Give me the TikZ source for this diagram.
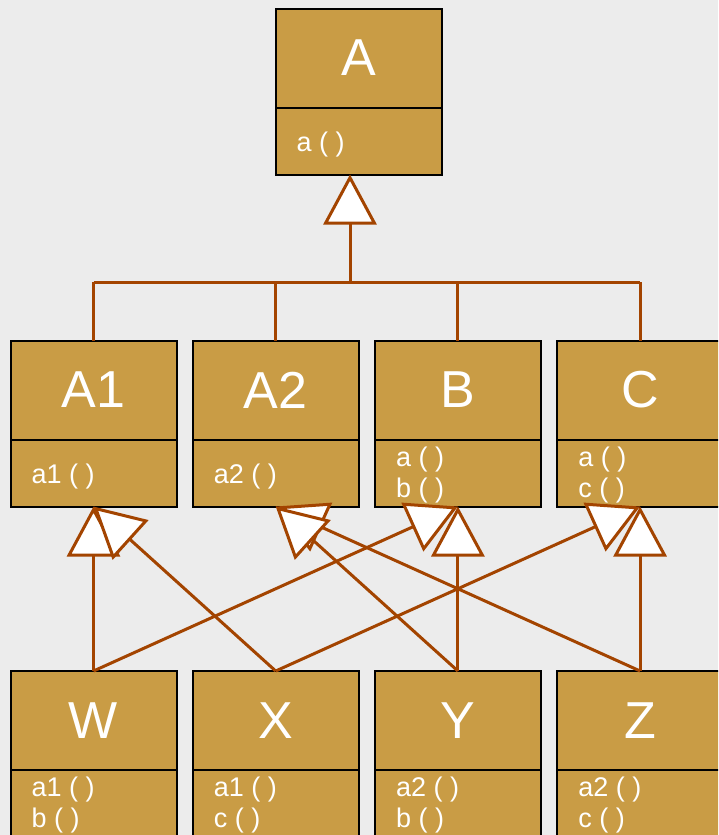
\documentclass[tikz,border=0pt]{standalone}
\usepackage{fontspec}
\setmainfont{Liberation Sans}
\usetikzlibrary{arrows.meta}
\definecolor{bgcol}{RGB}{236,236,236}
\definecolor{boxcol}{RGB}{201,156,69}
\definecolor{linecol}{RGB}{163,68,0}
\tikzset{
  classbox/.style={draw=black, line width=2pt, fill=boxcol, minimum width=166pt, minimum height=166pt, inner sep=0pt, outer sep=0pt, anchor=north},
  divider/.style={draw=black, line width=2pt},
  titletext/.style={text=white, font=\fontsize{52}{60}\selectfont, inner sep=0pt},
  methtext/.style={text=white, font=\fontsize{27}{31}\selectfont, inner sep=0pt, anchor=base west},
  gen/.style={draw=linecol, line width=3pt, -{Triangle[length=50pt,width=53pt,fill=white,line join=miter]}},
  busline/.style={draw=linecol, line width=3pt}
}
\begin{document}
\begin{tikzpicture}[x=1pt,y=-1pt]
\useasboundingbox (0,0) rectangle (718,835);
\fill[bgcol] (0,0) rectangle (718,835);
\clip (0,0) rectangle (718,835);

% boxes
\node[classbox] (A)  at (358.5,8.5) {};
\node[classbox] (A1) at (93.5,340.5) {};
\node[classbox] (A2) at (275.7,340.5) {};
\node[classbox] (B)  at (457.9,340.5) {};
\node[classbox] (C)  at (640.1,340.5) {};
\node[classbox] (W)  at (93.5,671) {};
\node[classbox] (X)  at (275.7,671) {};
\node[classbox] (Y)  at (457.9,671) {};
\node[classbox] (Z)  at (640.1,671) {};

% dividers and titles
\foreach \n in {A,A1,A2,B,C,W,X,Y,Z}{
  \draw[divider] ([yshift=-99pt]\n.north west) -- ([yshift=-99pt]\n.north east);
  \node[titletext] (\n-title) at ([yshift=-49.5pt]\n.north) {\n};
}

% methods
\node[methtext] (A-m1)  at ([xshift=21pt,yshift=-143pt]A.north west) {a ( )};
\node[methtext] (A1-m1) at ([xshift=21pt,yshift=-142.5pt]A1.north west) {a1 ( )};
\node[methtext] (A2-m1) at ([xshift=21pt,yshift=-142.5pt]A2.north west) {a2 ( )};
\node[methtext] (B-m1)  at ([xshift=21pt,yshift=-125.5pt]B.north west) {a ( )};
\node[methtext] (B-m2)  at ([xshift=21pt,yshift=-156.5pt]B.north west) {b ( )};
\node[methtext] (C-m1)  at ([xshift=21pt,yshift=-125.5pt]C.north west) {a ( )};
\node[methtext] (C-m2)  at ([xshift=21pt,yshift=-156.5pt]C.north west) {c ( )};
\node[methtext] (W-m1)  at ([xshift=21pt,yshift=-125pt]W.north west) {a1 ( )};
\node[methtext] (W-m2)  at ([xshift=21pt,yshift=-156pt]W.north west) {b ( )};
\node[methtext] (X-m1)  at ([xshift=21pt,yshift=-125pt]X.north west) {a1 ( )};
\node[methtext] (X-m2)  at ([xshift=21pt,yshift=-156pt]X.north west) {c ( )};
\node[methtext] (Y-m1)  at ([xshift=21pt,yshift=-125pt]Y.north west) {a2 ( )};
\node[methtext] (Y-m2)  at ([xshift=21pt,yshift=-156pt]Y.north west) {b ( )};
\node[methtext] (Z-m1)  at ([xshift=21pt,yshift=-125pt]Z.north west) {a2 ( )};
\node[methtext] (Z-m2)  at ([xshift=21pt,yshift=-156pt]Z.north west) {c ( )};

% top hierarchy
\coordinate (bus) at (350,282);
\draw[busline] (A1.north |- bus) -- (C.north |- bus);
\draw[busline] (A1.north |- bus) -- (A1.north);
\draw[busline] (A2.north |- bus) -- (A2.north);
\draw[busline] (B.north |- bus) -- (B.north);
\draw[busline] (C.north |- bus) -- (C.north);
\draw[gen] (bus) -- (bus |- A.south);

% bottom generalisations
\draw[gen] (W.north) -- (A1.south);
\draw[gen] (Y.north) -- (B.south);
\draw[gen] (Z.north) -- (C.south);
\draw[gen] (W.north) -- (B.south);
\draw[gen] (X.north) -- (C.south);
\draw[gen] (X.north) -- (A1.south);
\draw[gen] (Z.north) -- (A2.south);
\draw[gen] (Y.north) -- (A2.south);
\end{tikzpicture}
\end{document}
